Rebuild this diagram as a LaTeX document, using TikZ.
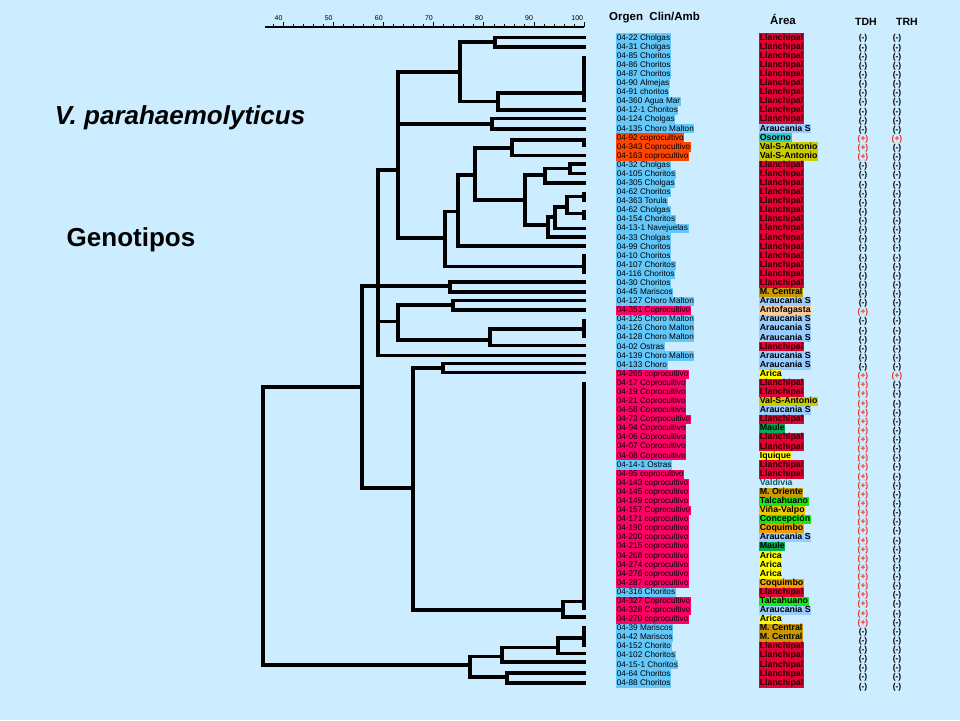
\documentclass[tikz,border=0pt]{standalone}
\usepackage{fontspec}
\setmainfont{Liberation Sans}
\definecolor{bgc}{RGB}{204,236,255}
\definecolor{cOB}{RGB}{100,200,250}
\definecolor{cOO}{RGB}{255,70,0}
\definecolor{cOP}{RGB}{255,0,102}
\definecolor{cLl}{RGB}{228,0,50}
\definecolor{cLlT}{RGB}{40,0,5}
\definecolor{cAr}{RGB}{153,204,255}
\definecolor{cOs}{RGB}{51,204,204}
\definecolor{cVs}{RGB}{204,204,0}
\definecolor{cMc}{RGB}{204,153,0}
\definecolor{cAn}{RGB}{255,204,153}
\definecolor{cYe}{RGB}{255,255,0}
\definecolor{cMa}{RGB}{0,176,80}
\definecolor{cTa}{RGB}{20,235,20}
\definecolor{cVv}{RGB}{235,200,0}
\definecolor{cCq}{RGB}{240,160,0}
\definecolor{cVaT}{RGB}{0,90,100}
\definecolor{cPlus}{RGB}{235,50,40}
\def\symtM{(-)}
\def\symtP{(+)}
\begin{document}
\begin{tikzpicture}[x=1pt,y=-1pt,
  tree/.style={line width=3.4pt, line join=miter, line cap=rect},
  edgebar/.style={line width=4.2pt},
  olab/.style={anchor=west, inner xsep=0.6pt, inner ysep=0pt, minimum height=9.1pt, text height=6.2pt, text depth=1.9pt, font=\fontsize{8.2}{9}\selectfont},
  alab/.style={anchor=west, inner xsep=0.6pt, inner ysep=0pt, minimum height=9.1pt, text height=6.4pt, text depth=2pt, font=\bfseries\fontsize{8.8}{9}\selectfont},
  mk/.style={inner sep=0pt, font=\bfseries\fontsize{8.5}{9}\selectfont},
  hdr/.style={inner sep=0pt, font=\bfseries\fontsize{11.5}{12}\selectfont},
  oB/.style={fill=cOB}, oO/.style={fill=cOO}, oP/.style={fill=cOP},
  aLl/.style={fill=cLl, text=cLlT}, aAr/.style={fill=cAr}, aOs/.style={fill=cOs},
  aVs/.style={fill=cVs}, aMc/.style={fill=cMc}, aAn/.style={fill=cAn},
  aYe/.style={fill=cYe}, aMa/.style={fill=cMa}, aTa/.style={fill=cTa},
  aVv/.style={fill=cVv}, aCq/.style={fill=cCq}, aVa/.style={text=cVaT},
  tM/.style={text=black},
  tP/.style={text=cPlus}]
\fill[bgc] (0,0) rectangle (960,720);
\useasboundingbox (0,0) rectangle (960,720);

% scale bar
\draw[line width=1.1pt] (265,27) -- (584,27);
\foreach \k in {-1,...,30}{
  \pgfmathsetmacro\xx{283.5+10.02*\k}
  \pgfmathtruncatemacro\md{mod(\k+5,5)}
  \ifnum\md=0
    \draw[line width=0.9pt] (\xx,27) -- (\xx,21.5);
    \pgfmathtruncatemacro\lab{40+2*\k}
    \node[anchor=south east, inner sep=0.3pt, font=\fontsize{7}{8}\selectfont] (s\k) at (\xx-0.5,21) {\lab};
  \else
    \draw[line width=0.8pt] (\xx,27) -- (\xx,24);
  \fi
}

% titles
\node[font=\bfseries\itshape\fontsize{26}{30}\selectfont] (title) at (180,118) {V. parahaemolyticus};
\node[font=\bfseries\fontsize{26}{30}\selectfont] (geno) at (131,240) {Genotipos};

% headers
\node[hdr, anchor=west] (h1) at (609,18) {Orgen~~Clin/Amb};
\node[hdr] (h2) at (783,19) {Área};
\node[hdr, font=\bfseries\fontsize{10.5}{12}\selectfont] (h3) at (866,22) {TDH};
\node[hdr, font=\bfseries\fontsize{10.5}{12}\selectfont] (h4) at (907,22) {TRH};

% rows
\foreach \o/\oc/\a/\ac/\td/\tr [count=\i] in {
04-22 Cholgas/oB/Llanchipal/aLl/tM/tM,
04-31 Cholgas/oB/Llanchipal/aLl/tM/tM,
04-85 Choritos/oB/Llanchipal/aLl/tM/tM,
04-86 Choritos/oB/Llanchipal/aLl/tM/tM,
04-87 Choritos/oB/Llanchipal/aLl/tM/tM,
04-90 Almejas/oB/Llanchipal/aLl/tM/tM,
04-91 choritos/oB/Llanchipal/aLl/tM/tM,
04-360 Agua Mar/oB/Llanchipal/aLl/tM/tM,
04-12-1 Choritos/oB/Llanchipal/aLl/tM/tM,
04-124 Cholgas/oB/Llanchipal/aLl/tM/tM,
04-135 Choro Malton/oB/Araucania S/aAr/tM/tM,
04-92 coprocultivo/oO/Osorno/aOs/tP/tP,
04-343 Coprocultivo/oO/Val-S-Antonio/aVs/tP/tM,
04-163 coprocultivo/oO/Val-S-Antonio/aVs/tP/tM,
04-32 Cholgas/oB/Llanchipal/aLl/tM/tM,
04-105 Choritos/oB/Llanchipal/aLl/tM/tM,
04-305 Cholgas/oB/Llanchipal/aLl/tM/tM,
04-62 Choritos/oB/Llanchipal/aLl/tM/tM,
04-363 Torula/oB/Llanchipal/aLl/tM/tM,
04-62 Cholgas/oB/Llanchipal/aLl/tM/tM,
04-154 Choritos/oB/Llanchipal/aLl/tM/tM,
04-13-1 Navejuelas/oB/Llanchipal/aLl/tM/tM,
04-33 Cholgas/oB/Llanchipal/aLl/tM/tM,
04-99 Choritos/oB/Llanchipal/aLl/tM/tM,
04-10 Choritos/oB/Llanchipal/aLl/tM/tM,
04-107 Choritos/oB/Llanchipal/aLl/tM/tM,
04-116 Choritos/oB/Llanchipal/aLl/tM/tM,
04-30 Choritos/oB/Llanchipal/aLl/tM/tM,
04-45 Mariscos/oB/M. Central/aMc/tM/tM,
04-127 Choro Malton/oB/Araucania S/aAr/tM/tM,
04-351 Coprocultivo/oP/Antofagasta/aAn/tP/tM,
04-125 Choro Malton/oB/Araucania S/aAr/tM/tM,
04-126 Choro Malton/oB/Araucania S/aAr/tM/tM,
04-128 Choro Malton/oB/Araucania S/aAr/tM/tM,
04-02 Ostras/oB/Llanchipal/aLl/tM/tM,
04-139 Choro Malton/oB/Araucania S/aAr/tM/tM,
04-133 Choro/oB/Araucania S/aAr/tM/tM,
04-265 coprocultivo/oP/Arica/aYe/tP/tP,
04-17 Coprocultivo/oP/Llanchipal/aLl/tP/tM,
04-19 Coprocultivo/oP/Llanchipal/aLl/tP/tM,
04-21 Coprocultivo/oP/Val-S-Antonio/aVs/tP/tM,
04-58 Coprocultivo/oP/Araucania S/aAr/tP/tM,
04-73 Coprpocultivo/oP/Llanchipal/aLl/tP/tM,
04-94 Coprocultivo/oP/Maule/aMa/tP/tM,
04-06 Coprocultivo/oP/Llanchipal/aLl/tP/tM,
04-07 Coprocultivo/oP/Llanchipal/aLl/tP/tM,
04-08 Coprocultivo/oP/Iquique/aYe/tP/tM,
04-14-1 Ostras/oB/Llanchipal/aLl/tP/tM,
04-95 coprocultivo/oP/Llanchipal/aLl/tP/tM,
04-143 coprocultivo/oP/Valdivia/aVa/tP/tM,
04-145 coprocultivo/oP/M. Oriente/aMc/tP/tM,
04-149 coprocultivo/oP/Talcahuano/aTa/tP/tM,
04-157 Coprocultivo/oP/Viña-Valpo/aVv/tP/tM,
04-171 coprocultivo/oP/Concepción/aTa/tP/tM,
04-190 coprocultivo/oP/Coquimbo/aCq/tP/tM,
04-200 coprocultivo/oP/Araucania S/aAr/tP/tM,
04-215 coprocultivo/oP/Maule/aMa/tP/tM,
04-268 coprocultivo/oP/Arica/aYe/tP/tM,
04-274 coprocultivo/oP/Arica/aYe/tP/tM,
04-276 coprocultivo/oP/Arica/aYe/tP/tM,
04-287 coprocultivo/oP/Coquimbo/aCq/tP/tM,
04-316 Choritos/oB/Llanchipal/aLl/tP/tM,
04-327 Coprocultivo/oP/Talcahuano/aTa/tP/tM,
04-328 Coprocultivo/oP/Araucania S/aAr/tP/tM,
04-270 coprocultivo/oP/Arica/aYe/tP/tM,
04-39 Mariscos/oB/M. Central/aMc/tM/tM,
04-42 Mariscos/oB/M. Central/aMc/tM/tM,
04-152 Chorito/oB/Llanchipal/aLl/tM/tM,
04-102 Choritos/oB/Llanchipal/aLl/tM/tM,
04-15-1 Choritos/oB/Llanchipal/aLl/tM/tM,
04-64 Choritos/oB/Llanchipal/aLl/tM/tM,
04-88 Choritos/oB/Llanchipal/aLl/tM/tM}{
  \pgfmathsetmacro\yy{38+9.085*(\i-1)}
  \pgfmathsetmacro\ym{\yy+0.8+3*(\i-1)/71}
  \node[olab,\oc] (o\i) at (616,\yy) {\o};
  \node[alab,\ac] (a\i) at (759,\yy) {\a};
  \node[mk,\td] (d\i) at (863,\ym) {\csname sym\td\endcsname};
  \node[mk,\tr] (r\i) at (897,\ym) {\csname sym\tr\endcsname};
}

% dendrogram
\draw[tree] (584,37.5) -- (495,37.5) -- (495,46.8) -- (584,46.8);
\draw[tree] (495,42) -- (460,42) -- (460,101.5) -- (498,101.5);
\draw[tree] (584,93) -- (498,93) -- (498,110) -- (584,110);
\draw[edgebar] (584,56) -- (584,102);
\draw[tree] (460,72) -- (398,72);
\draw[tree] (584,118.5) -- (492,118.5) -- (492,129) -- (584,129);
\draw[tree] (492,124) -- (398,124);
\draw[edgebar] (584,138) -- (584,147);
\draw[tree] (584,140) -- (512,140) -- (512,155.5) -- (584,155.5);
\draw[tree] (512,148) -- (475,148) -- (475,200) -- (525,200);
\draw[tree] (584,164) -- (570,164) -- (570,173.5) -- (584,173.5);
\draw[tree] (570,168.5) -- (545,168.5) -- (545,183) -- (584,183);
\draw[tree] (545,175) -- (525,175) -- (525,225) -- (548,225);
\draw[edgebar] (584,191.5) -- (584,201.5);
\draw[edgebar] (584,209.5) -- (584,219.5);
\draw[tree] (584,196.5) -- (567,196.5) -- (567,213.5) -- (584,213.5);
\draw[tree] (567,207) -- (555,207) -- (555,228.5) -- (584,228.5);
\draw[tree] (555,217) -- (548,217) -- (548,237) -- (584,237);
\draw[tree] (475,175) -- (458,175) -- (458,246) -- (584,246);
\draw[tree] (458,211.5) -- (445,211.5) -- (445,266.5) -- (584,266.5);
\draw[edgebar] (584,254) -- (584,274);
\draw[tree] (445,238) -- (398,238) -- (398,72);
\draw[tree] (398,170) -- (378,170) -- (378,355.5) -- (584,355.5);
\draw[tree] (584,282) -- (450,282) -- (450,292) -- (584,292);
\draw[tree] (450,286) -- (362,286) -- (362,488) -- (413,488);
\draw[tree] (584,300.5) -- (453,300.5) -- (453,310) -- (584,310);
\draw[tree] (453,305) -- (398,305) -- (398,340) -- (490,340);
\draw[tree] (398,321.5) -- (378,321.5);
\draw[tree] (584,329) -- (490,329) -- (490,345.5) -- (584,345.5);
\draw[edgebar] (584,318.5) -- (584,338);
\draw[tree] (584,363.5) -- (443,363.5) -- (443,372.5) -- (584,372.5);
\draw[tree] (443,368) -- (413,368) -- (413,610) -- (563,610);
\draw[edgebar] (584,382) -- (584,610);
\draw[tree] (584,601.5) -- (563,601.5) -- (563,617) -- (584,617);
\draw[tree] (362,387) -- (263,387) -- (263,665) -- (470,665);
\draw[tree] (502,656.5) -- (470,656.5) -- (470,677) -- (507,677);
\draw[tree] (584,638) -- (558,638) -- (558,653.5) -- (584,653.5);
\draw[tree] (558,647.5) -- (502,647.5) -- (502,662) -- (584,662);
\draw[edgebar] (584,626) -- (584,647);
\draw[tree] (584,673) -- (507,673) -- (507,683) -- (584,683);
\end{tikzpicture}
\end{document}
